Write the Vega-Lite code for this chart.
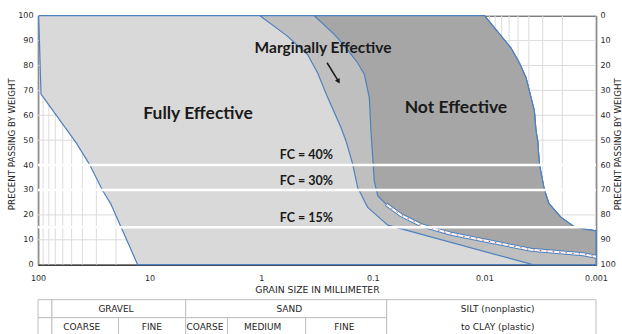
{
 "$schema": "https://vega.github.io/schema/vega-lite/v6.json",
 "padding": {"left": 7, "top": 10.7, "right": 0, "bottom": 0},
 "background": "white",
 "spacing": 3,
 "config": {"font": "DejaVu Sans", "view": {"stroke": null}, "axisY": {"tickCount": 11}},
 "datasets": {
  "gridx": [
   {"d":0.001},{"d":0.002},{"d":0.003},{"d":0.004},{"d":0.005},{"d":0.006},{"d":0.007},{"d":0.008},{"d":0.009},
   {"d":0.01},{"d":0.02},{"d":0.03},{"d":0.04},{"d":0.05},{"d":0.06},{"d":0.07},{"d":0.08},{"d":0.09},
   {"d":0.1},{"d":0.2},{"d":0.3},{"d":0.4},{"d":0.5},{"d":0.6},{"d":0.7},{"d":0.8},{"d":0.9},
   {"d":1},{"d":2},{"d":3},{"d":4},{"d":5},{"d":6},{"d":7},{"d":8},{"d":9},
   {"d":10},{"d":20},{"d":30},{"d":40},{"d":50},{"d":60},{"d":70},{"d":80},{"d":90},{"d":100}
  ],
  "gridy": [{"v":10},{"v":20},{"v":30},{"v":40},{"v":50},{"v":60},{"v":70},{"v":80},{"v":90}],
  "light": [
   {"i":1,"d":98.6,"v":100},{"i":2,"d":94.0,"v":68.5},{"i":3,"d":45.6,"v":49},{"i":4,"d":34.7,"v":40.4},
   {"i":5,"d":26.3,"v":29.7},{"i":6,"d":22.2,"v":24.3},{"i":7,"d":18.0,"v":15},{"i":8,"d":15.2,"v":7.6},
   {"i":9,"d":12.8,"v":0},{"i":10,"d":0.001,"v":0},{"i":11,"d":0.001,"v":13.6},{"i":12,"d":0.00111,"v":13.9},
   {"i":13,"d":0.00127,"v":14.3},{"i":14,"d":0.00157,"v":15.2},{"i":15,"d":0.00206,"v":19},{"i":16,"d":0.00264,"v":24.5},
   {"i":17,"d":0.0029,"v":30},{"i":18,"d":0.00322,"v":40.4},{"i":19,"d":0.00333,"v":49.7},{"i":20,"d":0.00345,"v":53.7},
   {"i":21,"d":0.00357,"v":61.8},{"i":22,"d":0.00424,"v":75.1},{"i":23,"d":0.00487,"v":81.1},{"i":24,"d":0.00578,"v":87},
   {"i":25,"d":0.0071,"v":91.9},{"i":26,"d":0.01,"v":100},{"i":27,"d":98.6,"v":100}
  ],
  "medium": [
   {"i":1,"d":1.026,"v":100},{"i":2,"d":0.59,"v":92},{"i":3,"d":0.383,"v":84.3},{"i":4,"d":0.312,"v":77},
   {"i":5,"d":0.2536,"v":67.1},{"i":6,"d":0.1928,"v":55.1},{"i":7,"d":0.1738,"v":49.7},{"i":8,"d":0.1514,"v":40.4},
   {"i":9,"d":0.1365,"v":31},{"i":10,"d":0.1111,"v":23},{"i":11,"d":0.0735,"v":15.9},{"i":12,"d":0.062,"v":15.0},
   {"i":13,"d":0.00369,"v":0},{"i":14,"d":0.001,"v":0},{"i":15,"d":0.001,"v":13.6},{"i":16,"d":0.00111,"v":13.9},
   {"i":17,"d":0.00127,"v":14.3},{"i":18,"d":0.00157,"v":15.2},{"i":19,"d":0.00206,"v":19},{"i":20,"d":0.00264,"v":24.5},
   {"i":21,"d":0.0029,"v":30},{"i":22,"d":0.00322,"v":40.4},{"i":23,"d":0.00333,"v":49.7},{"i":24,"d":0.00345,"v":53.7},
   {"i":25,"d":0.00357,"v":61.8},{"i":26,"d":0.00424,"v":75.1},{"i":27,"d":0.00487,"v":81.1},{"i":28,"d":0.00578,"v":87},
   {"i":29,"d":0.0071,"v":91.9},{"i":30,"d":0.01,"v":100},{"i":31,"d":1.026,"v":100}
  ],
  "dark": [
   {"i":1,"d":0.334,"v":100},{"i":2,"d":0.2213,"v":92.5},{"i":3,"d":0.1928,"v":89.5},{"i":4,"d":0.1567,"v":84.5},
   {"i":5,"d":0.1365,"v":81},{"i":6,"d":0.1191,"v":76.5},{"i":7,"d":0.1075,"v":67.1},{"i":8,"d":0.1038,"v":53.7},
   {"i":9,"d":0.097,"v":33.7},{"i":10,"d":0.0904,"v":27.7},{"i":11,"d":0.0762,"v":24.3},{"i":12,"d":0.0559,"v":19.9},
   {"i":13,"d":0.037,"v":15.9},{"i":14,"d":0.0199,"v":12.4},{"i":15,"d":0.00873,"v":9.2},{"i":16,"d":0.00382,"v":6.0},
   {"i":17,"d":0.0013,"v":4.2},{"i":18,"d":0.001,"v":3.2},{"i":19,"d":0.001,"v":13.6},{"i":20,"d":0.00111,"v":13.9},
   {"i":21,"d":0.00127,"v":14.3},{"i":22,"d":0.00157,"v":15.2},{"i":23,"d":0.00206,"v":19},{"i":24,"d":0.00264,"v":24.5},
   {"i":25,"d":0.0029,"v":30},{"i":26,"d":0.00322,"v":40.4},{"i":27,"d":0.00333,"v":49.7},{"i":28,"d":0.00345,"v":53.7},
   {"i":29,"d":0.00357,"v":61.8},{"i":30,"d":0.00424,"v":75.1},{"i":31,"d":0.00487,"v":81.1},{"i":32,"d":0.00578,"v":87},
   {"i":33,"d":0.0071,"v":91.9},{"i":34,"d":0.01,"v":100},{"i":35,"d":0.334,"v":100}
  ],
  "dash": [
   {"i":1,"d":0.0762,"v":24.3},{"i":2,"d":0.0559,"v":19.9},{"i":3,"d":0.037,"v":15.9},{"i":4,"d":0.0199,"v":12.4},
   {"i":5,"d":0.00873,"v":9.2},{"i":6,"d":0.00382,"v":6.0},{"i":7,"d":0.0013,"v":4.2},{"i":8,"d":0.001,"v":3.2}
  ],
  "fc": [{"v":40},{"v":30},{"v":15}],
  "fclab": [{"d":0.3945,"v":44.1,"t":"FC = 40%"},{"d":0.3945,"v":33.7,"t":"FC = 30%"},{"d":0.3945,"v":18.7,"t":"FC = 15%"}],
  "big": [{"d":3.68,"v":60.6,"t":"Fully Effective"},{"d":0.018,"v":63.1,"t":"Not Effective"}],
  "marg": [{"d":0.2794,"v":87.2,"t":"Marginally Effective"}],
  "arrow": [{"d":0.257,"v":81.1,"d2":0.2029,"v2":73.6}],
  "ret": [{"r":0},{"r":100}],
  "cells": [
   {"d":100,"d2":75,"r":0,"r2":1},{"d":100,"d2":75,"r":1,"r2":2},
   {"d":75,"d2":4.75,"r":0,"r2":1},{"d":75,"d2":19,"r":1,"r2":2},{"d":19,"d2":4.75,"r":1,"r2":2},
   {"d":4.75,"d2":0.075,"r":0,"r2":1},{"d":4.75,"d2":2,"r":1,"r2":2},{"d":2,"d2":0.4,"r":1,"r2":2},{"d":0.4,"d2":0.075,"r":1,"r2":2},
   {"d":0.075,"d2":0.001,"r":0,"r2":2}
  ],
  "tlabels": [
   {"xc":20,"rc":0.5,"t":"GRAVEL"},{"xc":40.5,"rc":1.5,"t":"COARSE"},{"xc":9.55,"rc":1.5,"t":"FINE"},
   {"xc":0.56,"rc":0.5,"t":"SAND"},{"xc":3.19,"rc":1.5,"t":"COARSE"},{"xc":0.97,"rc":1.5,"t":"MEDIUM"},
   {"xc":0.18,"rc":1.5,"t":"FINE"},{"xc":0.0076,"rc":0.5,"t":"SILT (nonplastic)"},{"xc":0.0076,"rc":1.5,"t":"to CLAY (plastic)"}
  ]
 },
 "vconcat": [
  {
   "width": 558,
   "height": 249,
   "view": {"stroke": "#404040", "strokeWidth": 1},
   "layer": [
    {
     "layer": [
      {
       "data": {"name": "gridx"},
       "mark": {"type": "rule", "stroke": "#dcdcdc", "strokeWidth": 1},
       "encoding": {
        "x": {"field": "d", "type": "quantitative",
              "scale": {"type": "log", "domain": [0.001, 100], "reverse": true, "nice": false},
              "axis": {
               "values": [0.001,0.01,0.1,1,10,100],
               "format": "~g",
               "grid": false,
               "ticks": false, "tickSize": 0,
               "domainColor": "#404040", "domainWidth": 1.5,
               "labelFontSize": 8, "labelColor": "#262626", "labelPadding": 10,
               "labelFlush": false, "labelOverlap": false,
               "title": "GRAIN SIZE IN MILLIMETER", "titleFontSize": 9.3, "titleFontWeight": "normal",
               "titleColor": "#262626", "titlePadding": 3
              }}
       }
      },
      {
       "data": {"name": "gridy"},
       "mark": {"type": "rule", "stroke": "#dcdcdc", "strokeWidth": 1},
       "encoding": {
        "y": {"field": "v", "type": "quantitative",
              "scale": {"domain": [0, 100], "nice": false},
              "axis": {
               "values": [0,10,20,30,40,50,60,70,80,90,100],
               "tickCount": 11,
               "grid": false,
               "ticks": false, "tickSize": 0,
               "domainColor": "#404040", "domainWidth": 1.5,
               "labelFontSize": 8, "labelColor": "#262626", "labelPadding": 5, "labelOverlap": false,
               "title": "PRECENT PASSING BY WEIGHT", "titleFontSize": 8.7, "titleFontWeight": "normal",
               "titleColor": "#262626", "titlePadding": 1, "titleY": 128
              }}
       }
      },
      {
       "data": {"name": "light"},
       "mark": {"type": "line", "fill": "#d9d9d9", "stroke": "#4f81bd", "strokeWidth": 1.2, "strokeJoin": "round"},
       "encoding": {
        "x": {"field": "d", "type": "quantitative", "scale": {"type": "log", "domain": [0.001, 100], "reverse": true, "nice": false}},
        "y": {"field": "v", "type": "quantitative", "scale": {"domain": [0, 100], "nice": false}},
        "order": {"field": "i", "type": "quantitative"}
       }
      },
      {
       "data": {"name": "medium"},
       "mark": {"type": "line", "fill": "#bfbfbf", "stroke": "#4f81bd", "strokeWidth": 1.2, "strokeJoin": "round"},
       "encoding": {
        "x": {"field": "d", "type": "quantitative", "scale": {"type": "log", "domain": [0.001, 100], "reverse": true, "nice": false}},
        "y": {"field": "v", "type": "quantitative", "scale": {"domain": [0, 100], "nice": false}},
        "order": {"field": "i", "type": "quantitative"}
       }
      },
      {
       "data": {"name": "dark"},
       "mark": {"type": "line", "fill": "#a6a6a6", "stroke": "#4f81bd", "strokeWidth": 1.2, "strokeJoin": "round"},
       "encoding": {
        "x": {"field": "d", "type": "quantitative", "scale": {"type": "log", "domain": [0.001, 100], "reverse": true, "nice": false}},
        "y": {"field": "v", "type": "quantitative", "scale": {"domain": [0, 100], "nice": false}},
        "order": {"field": "i", "type": "quantitative"}
       }
      },
      {
       "data": {"name": "dash"},
       "mark": {"type": "line", "stroke": "#4f81bd", "strokeWidth": 4},
       "encoding": {
        "x": {"field": "d", "type": "quantitative", "scale": {"type": "log", "domain": [0.001, 100], "reverse": true, "nice": false}},
        "y": {"field": "v", "type": "quantitative", "scale": {"domain": [0, 100], "nice": false}},
        "order": {"field": "i", "type": "quantitative"}
       }
      },
      {
       "data": {"name": "dash"},
       "mark": {"type": "line", "stroke": "white", "strokeWidth": 2},
       "encoding": {
        "x": {"field": "d", "type": "quantitative", "scale": {"type": "log", "domain": [0.001, 100], "reverse": true, "nice": false}},
        "y": {"field": "v", "type": "quantitative", "scale": {"domain": [0, 100], "nice": false}},
        "order": {"field": "i", "type": "quantitative"}
       }
      },
      {
       "data": {"name": "dash"},
       "mark": {"type": "line", "stroke": "#d04040", "strokeWidth": 1, "strokeDash": [1.5, 5]},
       "encoding": {
        "x": {"field": "d", "type": "quantitative", "scale": {"type": "log", "domain": [0.001, 100], "reverse": true, "nice": false}},
        "y": {"field": "v", "type": "quantitative", "scale": {"domain": [0, 100], "nice": false}},
        "order": {"field": "i", "type": "quantitative"}
       }
      },
      {
       "data": {"name": "fc"},
       "mark": {"type": "rule", "stroke": "white", "strokeWidth": 2.5},
       "encoding": {
        "y": {"field": "v", "type": "quantitative", "scale": {"domain": [0, 100], "nice": false}}
       }
      },
      {
       "data": {"name": "fclab"},
       "mark": {"type": "text", "font": "Lato", "fontWeight": "bold", "fontSize": 12.5, "color": "#1a1a1a", "baseline": "middle", "align": "center"},
       "encoding": {
        "x": {"field": "d", "type": "quantitative", "scale": {"type": "log", "domain": [0.001, 100], "reverse": true, "nice": false}},
        "y": {"field": "v", "type": "quantitative", "scale": {"domain": [0, 100], "nice": false}},
        "text": {"field": "t"}
       }
      },
      {
       "data": {"name": "big"},
       "mark": {"type": "text", "font": "Lato", "fontWeight": "bold", "fontSize": 17.5, "color": "#1a1a1a", "baseline": "middle", "align": "center"},
       "encoding": {
        "x": {"field": "d", "type": "quantitative", "scale": {"type": "log", "domain": [0.001, 100], "reverse": true, "nice": false}},
        "y": {"field": "v", "type": "quantitative", "scale": {"domain": [0, 100], "nice": false}},
        "text": {"field": "t"}
       }
      },
      {
       "data": {"name": "marg"},
       "mark": {"type": "text", "font": "Lato", "fontWeight": "bold", "fontSize": 15.5, "color": "#1a1a1a", "baseline": "middle", "align": "center"},
       "encoding": {
        "x": {"field": "d", "type": "quantitative", "scale": {"type": "log", "domain": [0.001, 100], "reverse": true, "nice": false}},
        "y": {"field": "v", "type": "quantitative", "scale": {"domain": [0, 100], "nice": false}},
        "text": {"field": "t"}
       }
      },
      {
       "data": {"name": "arrow"},
       "mark": {"type": "rule", "stroke": "#1a1a1a", "strokeWidth": 1.5},
       "encoding": {
        "x": {"field": "d", "type": "quantitative", "scale": {"type": "log", "domain": [0.001, 100], "reverse": true, "nice": false}},
        "y": {"field": "v", "type": "quantitative", "scale": {"domain": [0, 100], "nice": false}},
        "x2": {"field": "d2"},
        "y2": {"field": "v2"}
       }
      },
      {
       "data": {"name": "arrow"},
       "mark": {"type": "point", "shape": "triangle-down", "angle": 329, "size": 30, "filled": true, "color": "#1a1a1a", "opacity": 1},
       "encoding": {
        "x": {"field": "d2", "type": "quantitative", "scale": {"type": "log", "domain": [0.001, 100], "reverse": true, "nice": false}},
        "y": {"field": "v2", "type": "quantitative", "scale": {"domain": [0, 100], "nice": false}}
       }
      }
     ]
    },
    {
     "data": {"name": "ret"},
     "mark": {"type": "point", "opacity": 0},
     "encoding": {
      "y": {"field": "r", "type": "quantitative",
            "scale": {"domain": [0, 100], "reverse": true, "nice": false},
            "axis": {
             "orient": "right",
             "values": [0,10,20,30,40,50,60,70,80,90,100],
             "grid": false, "ticks": false, "tickSize": 0,
             "domainColor": "#404040", "domainWidth": 1.5,
             "labelFontSize": 8, "labelColor": "#262626", "labelPadding": 4, "labelOverlap": false,
             "title": "PRECENT PASSING BY WEIGHT", "titleAngle": 270, "titleFontSize": 8.7, "titleFontWeight": "normal",
             "titleColor": "#262626", "titleX": 22, "titleY": 128, "titleAlign": "center", "titleBaseline": "middle"
            }}
     }
    }
   ],
   "resolve": {"scale": {"y": "independent"}}
  },
  {
   "width": 558,
   "height": 36,
   "view": {"stroke": null},
   "layer": [
    {
     "data": {"name": "cells"},
     "mark": {"type": "rect", "fill": "white", "stroke": "#bfbfbf", "strokeWidth": 1},
     "encoding": {
      "x": {"field": "d", "type": "quantitative", "scale": {"type": "log", "domain": [0.001, 100], "reverse": true, "nice": false}, "axis": null},
      "x2": {"field": "d2"},
      "y": {"field": "r", "type": "quantitative", "scale": {"domain": [0, 2], "reverse": true, "nice": false}, "axis": null},
      "y2": {"field": "r2"}
     }
    },
    {
     "data": {"name": "tlabels"},
     "mark": {"type": "text", "font": "DejaVu Sans", "fontSize": 9, "color": "#262626", "baseline": "middle", "align": "center"},
     "encoding": {
      "x": {"field": "xc", "type": "quantitative", "scale": {"type": "log", "domain": [0.001, 100], "reverse": true, "nice": false}, "axis": null},
      "y": {"field": "rc", "type": "quantitative", "scale": {"domain": [0, 2], "reverse": true, "nice": false}, "axis": null},
      "text": {"field": "t"}
     }
    }
   ]
  }
 ]
}
